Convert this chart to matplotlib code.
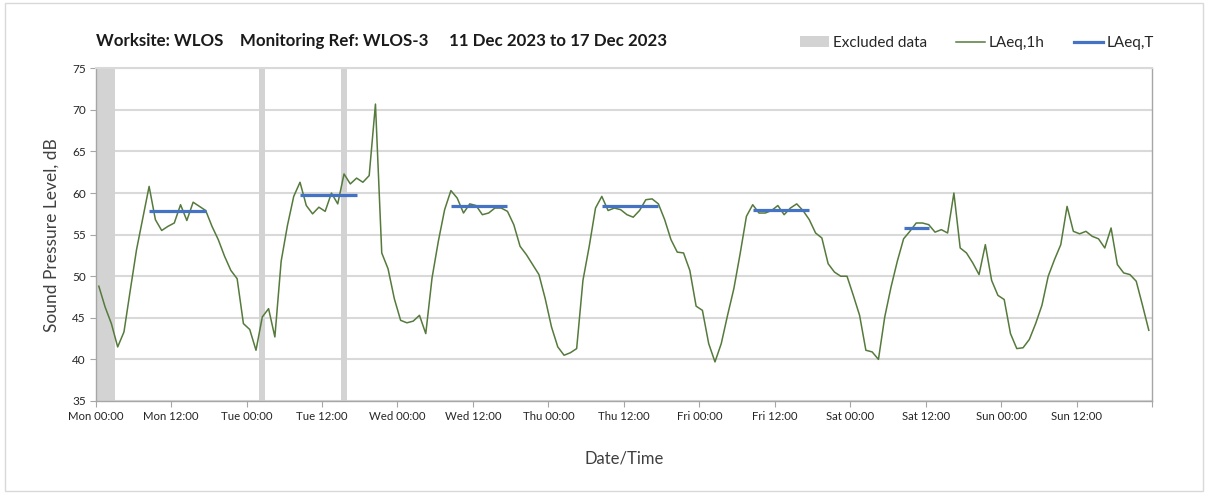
import matplotlib
matplotlib.use("Agg")
import matplotlib.pyplot as plt
import matplotlib.dates as mdates
from matplotlib.patches import Patch, Rectangle
from matplotlib.lines import Line2D
import pandas as pd

plt.rcParams['font.family'] = ['Lato', 'DejaVu Sans']

# ---- data ----
start_time = "2023-12-11 00:30"
laeq_1h = [
    # Mon
    48.8, 46.3, 44.3, 41.5, 43.3, 48.3, 53.2, 57.0, 60.8, 56.8, 55.5, 56.0,
    56.4, 58.6, 56.7, 58.9, 58.4, 57.9, 56.0, 54.4, 52.4, 50.7, 49.7, 44.3,
    # Tue
    43.6, 41.1, 45.1, 46.1, 42.7, 51.8, 56.1, 59.6, 61.3, 58.5, 57.5, 58.3,
    57.8, 60.0, 58.7, 62.3, 61.1, 61.8, 61.3, 62.1, 70.7, 52.8, 50.9, 47.3,
    # Wed
    44.7, 44.4, 44.6, 45.3, 43.1, 49.8, 54.2, 58.0, 60.3, 59.4, 57.6, 58.7,
    58.5, 57.4, 57.6, 58.2, 58.2, 57.8, 56.2, 53.6, 52.6, 51.4, 50.2, 47.3,
    # Thu
    43.9, 41.5, 40.5, 40.8, 41.3, 49.5, 53.6, 58.2, 59.6, 57.9, 58.2, 58.0,
    57.4, 57.1, 57.9, 59.2, 59.3, 58.7, 56.8, 54.4, 52.9, 52.8, 50.7, 46.4,
    # Fri
    45.9, 41.9, 39.7, 41.9, 45.3, 48.5, 52.7, 57.2, 58.6, 57.6, 57.6, 57.9,
    58.5, 57.4, 58.2, 58.7, 57.9, 56.8, 55.2, 54.6, 51.5, 50.5, 50.0, 50.0,
    # Sat
    47.7, 45.3, 41.1, 40.9, 40.0, 45.1, 48.7, 51.8, 54.5, 55.4, 56.4, 56.4,
    56.2, 55.3, 55.6, 55.2, 60.0, 53.4, 52.8, 51.6, 50.2, 53.8, 49.5, 47.7,
    # Sun
    47.2, 43.1, 41.3, 41.4, 42.4, 44.3, 46.5, 50.0, 52.0, 53.8, 58.4, 55.4,
    55.1, 55.4, 54.8, 54.5, 53.4, 55.8, 51.4, 50.4, 50.2, 49.4, 46.5, 43.5,
]

laeq_t_start = ["2023-12-11 08:30", "2023-12-12 08:30", "2023-12-13 08:30",
                "2023-12-14 08:30", "2023-12-15 08:30", "2023-12-16 08:30"]
laeq_t_end = ["2023-12-11 17:30", "2023-12-12 17:30", "2023-12-13 17:30",
              "2023-12-14 17:30", "2023-12-15 17:30", "2023-12-16 12:30"]
laeq_t_value = [57.9, 59.8, 58.5, 58.4, 58.0, 55.8]

excluded_start = ["2023-12-11 00:00", "2023-12-12 02:00", "2023-12-12 15:00"]
excluded_end = ["2023-12-11 03:00", "2023-12-12 03:00", "2023-12-12 16:00"]

x_start = "2023-12-11 00:00"
x_end = "2023-12-18 00:00"
y_min, y_max, y_step = 35, 75, 5

title = "Worksite: WLOS    Monitoring Ref: WLOS-3     11 Dec 2023 to 17 Dec 2023"

# ---- plot ----
green = "#557a3c"
blue = "#4472c4"
grey_band = "#d3d3d3"
grid_c = "#d9d9d9"
axis_c = "#a6a6a6"

fig = plt.figure(figsize=(12.08, 4.94), dpi=100)
ax = fig.add_axes([0.0792, 0.1883, 0.8744, 0.6734])

times = pd.date_range(start_time, periods=len(laeq_1h), freq="h")

for s, e in zip(excluded_start, excluded_end):
    ax.axvspan(pd.Timestamp(s), pd.Timestamp(e), color=grey_band, lw=0, zorder=1)

ax.plot(times, laeq_1h, color=green, lw=1.1, zorder=3)

for s, e, v in zip(laeq_t_start, laeq_t_end, laeq_t_value):
    ax.plot([pd.Timestamp(s), pd.Timestamp(e)], [v, v], color=blue, lw=2.3,
            solid_capstyle="butt", zorder=4)

ax.set_xlim(pd.Timestamp(x_start), pd.Timestamp(x_end))
ax.set_ylim(y_min, y_max)
ax.set_yticks(range(y_min, y_max + 1, y_step))

ax.xaxis.set_major_locator(mdates.HourLocator(byhour=[0, 12]))
ax.xaxis.set_minor_locator(mdates.HourLocator(byhour=[0]))


def fmt(x, pos=None):
    d = mdates.num2date(x)
    if d.replace(tzinfo=None) >= pd.Timestamp(x_end).to_pydatetime():
        return ""
    return d.strftime("%a %H:%M")


ax.xaxis.set_major_formatter(plt.FuncFormatter(fmt))

ax.grid(axis="y", which="major", color=grid_c, lw=1.5, zorder=0)
ax.grid(axis="x", which="minor", color="#e6e6e6", lw=1.2, zorder=0)
ax.set_axisbelow(True)

for sp in ax.spines.values():
    sp.set_color(axis_c)
    sp.set_linewidth(1.0)
ax.spines["top"].set_color(grid_c)
ax.spines["top"].set_linewidth(1.5)

ax.tick_params(axis="x", which="major", length=4, color=axis_c, labelsize=8.2,
               labelcolor="#262626", pad=3)
ax.tick_params(axis="x", which="minor", length=0)
ax.tick_params(axis="y", length=4, color=axis_c, labelsize=8.5,
               labelcolor="#262626", pad=3)

ax.set_ylabel("Sound Pressure Level, dB", fontsize=12.5, color="#404040", labelpad=9)
ax.set_xlabel("Date/Time", fontsize=12, color="#404040", labelpad=21)

fig.text(0.0795, 0.918, title, fontsize=12.2, fontweight="bold", color="#1a1a1a",
         ha="left", va="center")

handles = [Patch(facecolor=grey_band, edgecolor="none"),
           Line2D([0], [0], color=green, lw=1.1),
           Line2D([0], [0], color=blue, lw=2.3)]
labels = ["Excluded data", "LAeq,1h", "LAeq,T"]
fig.legend(handles, labels, loc="center left", bbox_to_anchor=(0.651, 0.913),
           ncol=3, frameon=False, fontsize=11, handlelength=1.9,
           handletextpad=0.25, columnspacing=1.9, labelcolor="#262626")

fig.patches.append(Rectangle((0.004, 0.006), 0.992, 0.988, transform=fig.transFigure,
                             fill=False, edgecolor="#d9d9d9", lw=1.0))

fig.savefig("out.png", dpi=100)
